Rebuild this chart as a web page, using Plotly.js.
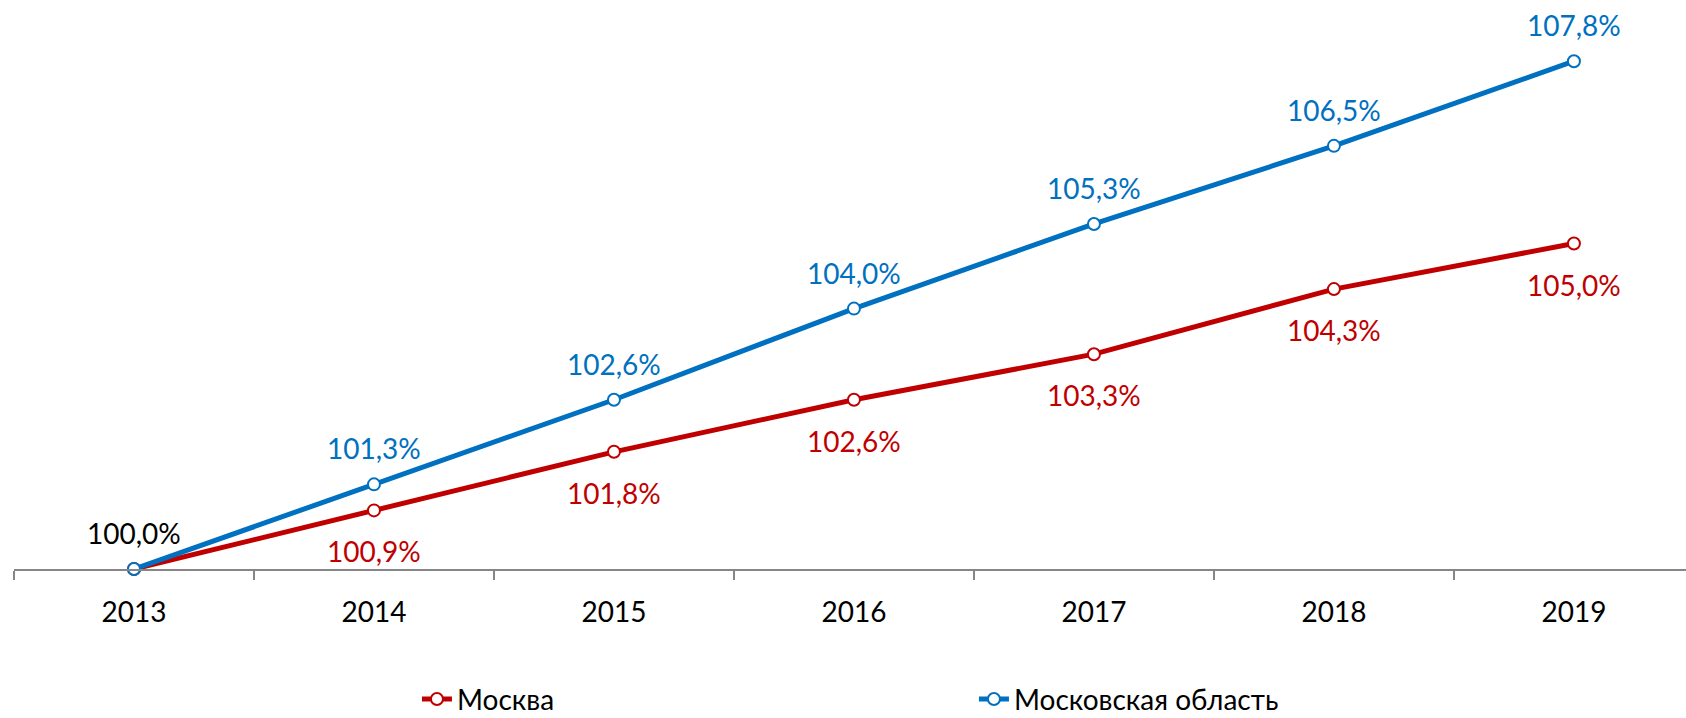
<!DOCTYPE html>
<html>
<head>
<meta charset="utf-8">
<script src="https://cdn.plot.ly/plotly-3.0.1.min.js"></script>
<style>html,body{margin:0;padding:0;background:#fff;}#chart{width:1686px;height:718px;}</style>
</head>
<body>
<div id="chart"></div>
<script>
const years = ['2013', '2014', '2015', '2016', '2017', '2018', '2019'];
const moscow = [100.0, 100.9, 101.8, 102.6, 103.3, 104.3, 105.0];
const oblast = [100.0, 101.3, 102.6, 104.0, 105.3, 106.5, 107.8];
const seriesNames = ['Москва', 'Московская область'];

const RED = '#C00000', BLUE = '#0070C0';
const FONT = 'Lato, "Open Sans", sans-serif';
const fmt = v => v.toFixed(1).replace('.', ',') + '%';

const traces = [
  {x: years, y: moscow, name: seriesNames[0], type: 'scatter', mode: 'lines+markers',
   line: {color: RED, width: 5}, cliponaxis: false,
   marker: {symbol: 'circle', size: 12, color: '#fff', line: {color: RED, width: 2}}},
  {x: years, y: oblast, name: seriesNames[1], type: 'scatter', mode: 'lines+markers',
   line: {color: BLUE, width: 5}, cliponaxis: false,
   marker: {symbol: 'circle', size: 12, color: '#fff', line: {color: BLUE, width: 2}}}
];

const annotations = [];
for (let i = 0; i < years.length; i++) {
  annotations.push({xref: 'x', yref: 'y', x: i, y: oblast[i], text: fmt(oblast[i]),
    showarrow: false, yshift: 36,
    font: {family: FONT, size: 28, color: i === 0 ? '#000000' : BLUE}});
  if (i > 0) {
    annotations.push({xref: 'x', yref: 'y', x: i, y: moscow[i], text: fmt(moscow[i]),
      showarrow: false, yshift: -41,
      font: {family: FONT, size: 28, color: RED}});
  }
}

const layout = {
  width: 1686, height: 718,
  margin: {l: 14, r: 0, t: 10, b: 149},
  paper_bgcolor: '#fff', plot_bgcolor: '#fff',
  font: {family: FONT, size: 28, color: '#000'},
  xaxis: {type: 'category', range: [-0.5, 6.467], tickson: 'boundaries',
    showline: true, linecolor: '#868686', linewidth: 2,
    ticks: 'outside', ticklen: 9, tickwidth: 2, tickcolor: '#868686',
    ticklabelstandoff: 17, showgrid: false, zeroline: false,
    tickfont: {family: FONT, size: 28, color: '#000'}},
  yaxis: {range: [100, 108.587], showticklabels: false, showgrid: false,
    zeroline: false, showline: false, ticks: ''},
  showlegend: true,
  legend: {orientation: 'h', xref: 'container', yref: 'container',
    x: 0.2473, y: 0.026, xanchor: 'left', yanchor: 'middle',
    entrywidth: 512, entrywidthmode: 'pixels',
    font: {family: FONT, size: 28, color: '#000'},
    bgcolor: 'rgba(0,0,0,0)'},
  annotations: annotations
};

Plotly.newPlot('chart', traces, layout, {displayModeBar: false, staticPlot: true});
</script>
</body>
</html>
